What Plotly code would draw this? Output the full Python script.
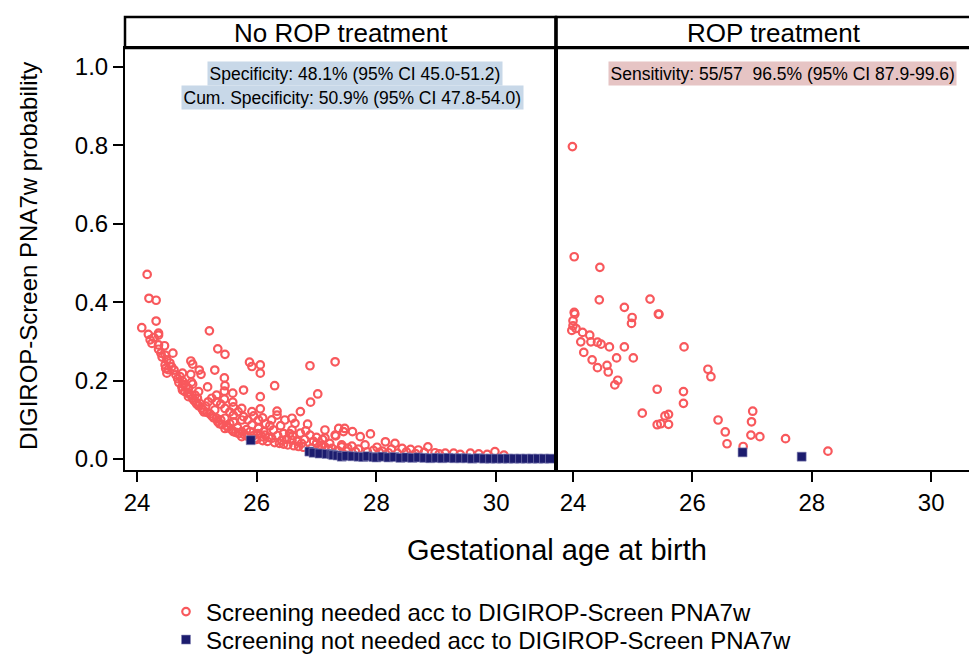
import plotly.graph_objects as go

# ---------------- data ----------------
# No ROP treatment panel: screening needed (open circles)
noROP_need_x = [24.17, 24.20, 24.32, 24.32, 24.08, 24.19, 24.36, 24.36, 24.22, 24.36, 24.46, 24.36, 24.60, 24.47,
                24.50, 24.47, 24.48, 24.62, 24.50, 25.21, 25.35, 25.47, 24.90, 24.93, 25.04, 25.07, 24.76, 24.90,
                25.30, 25.88, 25.92, 26.06, 26.06, 24.76, 24.91, 24.75, 24.76, 24.86, 24.93, 25.46, 25.47, 25.18,
                25.03, 24.97, 25.01, 25.05, 25.03, 24.80, 24.86, 24.93, 25.33, 25.46, 25.60, 25.78, 25.46, 25.19,
                25.33, 25.17, 25.30, 25.47, 25.61, 25.75, 25.92, 26.06, 26.06, 25.33, 25.47, 25.61, 25.69, 25.47,
                25.61, 25.75, 25.61, 25.75, 25.78, 25.92, 26.03, 25.75, 25.89, 26.03, 26.09, 25.97, 26.30, 26.89,
                27.31, 27.02, 26.90, 26.73, 26.34, 26.34, 26.47, 26.59, 26.64, 26.85, 27.14, 27.37, 27.45, 27.31,
                26.59, 26.73, 26.89, 26.28, 26.14, 26.25, 26.42, 26.59, 26.75, 27.00, 27.14, 27.26, 27.42, 27.47,
                27.60, 27.90, 27.73, 27.32, 27.14, 28.15, 28.31, 28.43, 28.01, 27.81, 27.59, 27.42, 28.57, 28.70,
                28.86, 28.98, 29.15, 29.29, 29.57, 29.71, 29.98, 30.13,
                24.55, 24.58, 24.65, 24.68, 24.70, 24.72, 24.78, 24.82, 24.85, 24.88, 24.95, 24.98, 25.00, 25.08,
                25.10, 25.12, 25.15, 25.22, 25.25, 25.28, 25.35, 25.38, 25.40, 25.42, 25.50, 25.52, 25.55, 25.58,
                25.65, 25.68, 25.70, 25.80, 25.83, 25.85, 25.95, 26.00, 26.02, 26.10, 26.12, 26.18, 26.20, 26.22,
                26.30, 26.35, 26.38, 26.45, 26.50, 26.52, 26.55, 26.62, 26.68, 26.70, 26.78, 26.80, 26.82, 26.92,
                26.95, 27.05, 27.08, 27.10, 27.20, 27.22, 27.35, 27.50, 27.52, 27.65, 27.70, 27.85, 27.95, 28.05,
                28.10, 28.20, 28.25, 28.35, 28.50, 28.65, 28.80, 29.05, 29.40, 29.85, 24.25, 24.28, 24.40, 24.42,
                24.52, 25.25, 25.40, 25.55, 25.60, 25.85, 25.95, 26.15, 26.25, 26.40, 26.45, 26.60, 27.00, 26.10]
noROP_need_y = [0.471, 0.410, 0.405, 0.352, 0.335, 0.318, 0.321, 0.316, 0.304, 0.291, 0.289, 0.280, 0.270, 0.265,
                0.253, 0.240, 0.231, 0.227, 0.219, 0.327, 0.281, 0.267, 0.250, 0.242, 0.227, 0.216, 0.219, 0.216,
                0.227, 0.247, 0.236, 0.240, 0.219, 0.199, 0.196, 0.184, 0.176, 0.180, 0.191, 0.207, 0.187, 0.184,
                0.172, 0.163, 0.155, 0.142, 0.136, 0.172, 0.159, 0.155, 0.163, 0.173, 0.168, 0.176, 0.153, 0.146,
                0.146, 0.119, 0.125, 0.129, 0.133, 0.129, 0.121, 0.159, 0.128, 0.104, 0.104, 0.112, 0.121, 0.078,
                0.070, 0.070, 0.095, 0.0995, 0.108, 0.087, 0.0995, 0.057, 0.070, 0.078, 0.057, 0.053, 0.187, 0.238,
                0.248, 0.166, 0.145, 0.121, 0.122, 0.112, 0.0995, 0.104, 0.091, 0.089, 0.074, 0.078, 0.070, 0.061,
                0.074, 0.066, 0.061, 0.074, 0.061, 0.053, 0.048, 0.048, 0.040, 0.040, 0.031, 0.027, 0.031, 0.078,
                0.070, 0.064, 0.057, 0.059, 0.054, 0.044, 0.040, 0.027, 0.030, 0.036, 0.033, 0.036, 0.0245, 0.023,
                0.031, 0.016, 0.015, 0.015, 0.015, 0.013, 0.019, 0.010,
                0.245, 0.235, 0.215, 0.205, 0.195, 0.210, 0.190, 0.185, 0.170, 0.165, 0.150, 0.145, 0.140, 0.130,
                0.125, 0.120, 0.135, 0.115, 0.110, 0.105, 0.095, 0.090, 0.100, 0.088, 0.085, 0.080, 0.090, 0.075,
                0.068, 0.080, 0.065, 0.062, 0.075, 0.058, 0.060, 0.050, 0.065, 0.047, 0.070, 0.045, 0.055, 0.085,
                0.042, 0.060, 0.040, 0.038, 0.050, 0.036, 0.065, 0.034, 0.045, 0.032, 0.030, 0.050, 0.072, 0.028,
                0.045, 0.026, 0.035, 0.050, 0.024, 0.040, 0.022, 0.020, 0.028, 0.019, 0.025, 0.018, 0.022, 0.017,
                0.020, 0.016, 0.025, 0.015, 0.018, 0.014, 0.017, 0.013, 0.012, 0.012, 0.295, 0.310, 0.270, 0.260,
                0.228, 0.155, 0.140, 0.120, 0.145, 0.100, 0.110, 0.090, 0.100, 0.085, 0.065, 0.060, 0.055, 0.105]

# No ROP treatment panel: screening not needed (filled squares)
noROP_noneed_x = [25.90, 26.88, 26.95, 27.05, 27.17, 27.25, 27.28, 27.35, 27.42, 27.50, 27.60, 27.70, 27.78, 27.85,
                  27.95, 28.00, 28.10, 28.20, 28.30, 28.40, 28.50, 28.60, 28.70, 28.80, 28.90, 29.00, 29.10, 29.20,
                  29.30, 29.40, 29.50, 29.60, 29.70, 29.80, 29.90, 30.00, 30.10, 30.20, 30.30, 30.40, 30.50, 30.60,
                  30.70, 30.80, 30.90]
noROP_noneed_y = [0.048, 0.019, 0.016, 0.014, 0.013, 0.012, 0.010, 0.009, 0.006, 0.008, 0.007, 0.006, 0.005, 0.007,
                  0.005, 0.004, 0.006, 0.004, 0.005, 0.003, 0.004, 0.003, 0.004, 0.003, 0.002, 0.003, 0.002, 0.003,
                  0.002, 0.002, 0.002, 0.001, 0.002, 0.001, 0.001, 0.001, 0.001, 0.001, 0.001, 0.001, 0.001, 0.001,
                  0.001, 0.001, 0.001]

# ROP treatment panel
ROP_need_x = [23.99, 24.02, 24.45, 24.44, 24.86, 25.29, 24.99, 24.98, 25.44, 24.02, 24.00, 23.98, 24.05, 24.16,
              24.28, 24.13, 24.30, 24.41, 24.47, 24.61, 24.86, 25.86, 24.18, 24.32, 24.73, 25.01, 24.41, 24.57,
              24.59, 26.26, 26.31, 24.75, 24.70, 25.41, 25.85, 25.85, 25.16, 25.54, 25.60, 25.41, 25.47, 25.60,
              27.01, 26.99, 26.43, 26.55, 26.98, 27.13, 26.58, 26.85, 27.56, 28.27, 24.00, 24.03, 25.43]
ROP_need_y = [0.797, 0.516, 0.489, 0.406, 0.387, 0.408, 0.361, 0.346, 0.369, 0.374, 0.353, 0.328, 0.333, 0.323,
              0.316, 0.299, 0.299, 0.298, 0.293, 0.286, 0.286, 0.286, 0.272, 0.253, 0.258, 0.258, 0.233, 0.239,
              0.222, 0.229, 0.210, 0.201, 0.189, 0.178, 0.172, 0.142, 0.117, 0.110, 0.114, 0.0875, 0.090, 0.0885,
              0.122, 0.095, 0.0995, 0.069, 0.061, 0.057, 0.039, 0.032, 0.052, 0.020, 0.340, 0.370, 0.370]
ROP_noneed_x = [26.84, 27.83]
ROP_noneed_y = [0.017, 0.006]

# ticks / text
y_ticks = [0.0, 0.2, 0.4, 0.6, 0.8, 1.0]
x_ticks = [24, 26, 28, 30]
panel_titles = ["No ROP treatment", "ROP treatment"]
legend_names = ["Screening needed acc to DIGIROP-Screen PNA7w", "Screening not needed acc to DIGIROP-Screen PNA7w"]

# ---------------- styling ----------------
OFF = 8                      # page body margin of the html page
W, H = 977 - OFF, 657 - OFF  # figure size so that it ends at the window edge
RED = "#F8585C"
NAVY = "#1C1C6E"
FONT = "Liberation Sans, Arial, sans-serif"


def px(x):
    """window pixel x -> paper fraction"""
    return (x - OFF) / W


def py(y):
    """window pixel y -> paper fraction"""
    return 1 - (y - OFF) / H


fig = go.Figure()

red_marker = dict(symbol="circle-open", size=7.5, color=RED, line=dict(width=2.2, color=RED))
blue_marker = dict(symbol="square", size=9, color=NAVY, line=dict(width=0.6, color="#8A8AB8"))

fig.add_trace(go.Scatter(x=noROP_need_x, y=noROP_need_y, mode="markers", marker=red_marker,
                         name=legend_names[0], xaxis="x", yaxis="y", legend="legend"))
fig.add_trace(go.Scatter(x=noROP_noneed_x, y=noROP_noneed_y, mode="markers", marker=blue_marker,
                         name=legend_names[1], xaxis="x", yaxis="y", legend="legend2"))
fig.add_trace(go.Scatter(x=ROP_need_x, y=ROP_need_y, mode="markers", marker=red_marker,
                         name=legend_names[0], xaxis="x2", yaxis="y2", showlegend=False))
fig.add_trace(go.Scatter(x=ROP_noneed_x, y=ROP_noneed_y, mode="markers", marker=blue_marker,
                         name=legend_names[1], xaxis="x2", yaxis="y2", showlegend=False))

L, M, R = 125, 556, 977
TOP_STRIP, TOP_PLOT, BOTTOM = 17, 48, 470
ydom = [py(BOTTOM), py(TOP_PLOT)]

axis_common = dict(showgrid=False, zeroline=False, linecolor="black", linewidth=2,
                   tickwidth=1.5, tickcolor="black", ticklen=10,
                   tickfont=dict(family=FONT, size=24, color="black"))

legend_common = dict(xanchor="left", yanchor="middle", orientation="v",
                     font=dict(family=FONT, size=24, color="black"), bgcolor="rgba(0,0,0,0)",
                     borderwidth=0, itemsizing="trace")

fig.update_layout(
    width=W, height=H, autosize=False,
    margin=dict(l=0, r=0, t=0, b=0, autoexpand=False),
    plot_bgcolor="white", paper_bgcolor="white",
    font=dict(family=FONT, color="black"),
    xaxis=dict(domain=[px(L), px(M)], range=[23.8, 31.0], tickvals=x_ticks, showline=True, mirror=True,
               ticks="outside", anchor="y", **axis_common),
    yaxis=dict(domain=ydom, range=[-0.028, 1.0485], tickvals=y_ticks, tickformat=".1f", showline=True,
               mirror=True, ticks="outside", anchor="x", **axis_common),
    xaxis2=dict(domain=[px(M), 1.0], range=[23.715, 30.767], tickvals=x_ticks, showline=True, mirror=True,
                ticks="outside", anchor="y2", **axis_common),
    yaxis2=dict(domain=ydom, range=[-0.028, 1.0485], tickvals=y_ticks, showline=True, mirror=False,
                showticklabels=False, ticks="", anchor="x2", **axis_common),
    legend=dict(x=px(166), y=py(612), **legend_common),
    legend2=dict(x=px(166), y=py(640), **legend_common),
    showlegend=True,
)

# strip boxes
fig.add_shape(type="rect", xref="paper", yref="paper", x0=px(L), x1=px(M), y0=py(TOP_PLOT), y1=py(TOP_STRIP),
              line=dict(color="black", width=2.5), fillcolor="white", layer="below")
fig.add_shape(type="rect", xref="paper", yref="paper", x0=px(M), x1=px(R + 20), y0=py(TOP_PLOT), y1=py(TOP_STRIP),
              line=dict(color="black", width=2.5), fillcolor="white", layer="below")
# thick divider between panels
fig.add_shape(type="line", xref="paper", yref="paper", x0=px(M), x1=px(M), y0=py(BOTTOM), y1=py(TOP_STRIP),
              line=dict(color="black", width=3.5))

center = dict(xref="paper", yref="paper", xanchor="center", yanchor="middle", showarrow=False)

fig.add_annotation(x=px((L + M) / 2), y=py(33), text=panel_titles[0],
                   font=dict(family=FONT, size=26, color="black"), **center)
fig.add_annotation(x=px(774), y=py(33), text=panel_titles[1],
                   font=dict(family=FONT, size=26, color="black"), **center)

ann_font = dict(family=FONT, size=17.5, color="black")
fig.add_annotation(x=px(355), y=py(73), text="Specificity: 48.1% (95% CI 45.0-51.2)", font=ann_font,
                   bgcolor="#C8D8E8", borderpad=1.5, **center)
fig.add_annotation(x=px(352), y=py(97), text="Cum. Specificity: 50.9% (95% CI 47.8-54.0)", font=ann_font,
                   bgcolor="#C8D8E8", borderpad=1.5, **center)
fig.add_annotation(x=px(782), y=py(73), text="Sensitivity: 55/57  96.5% (95% CI 87.9-99.6)", font=ann_font,
                   bgcolor="#E6C4C4", borderpad=1.5, **center)

# axis titles
fig.add_annotation(x=px(557), y=py(550), text="Gestational age at birth",
                   font=dict(family=FONT, size=29, color="black"), **center)
fig.add_annotation(x=px(28), y=py(256), text="DIGIROP-Screen PNA7w probability", textangle=-90,
                   font=dict(family=FONT, size=24, color="black"), **center)

fig.write_html("out.html")
